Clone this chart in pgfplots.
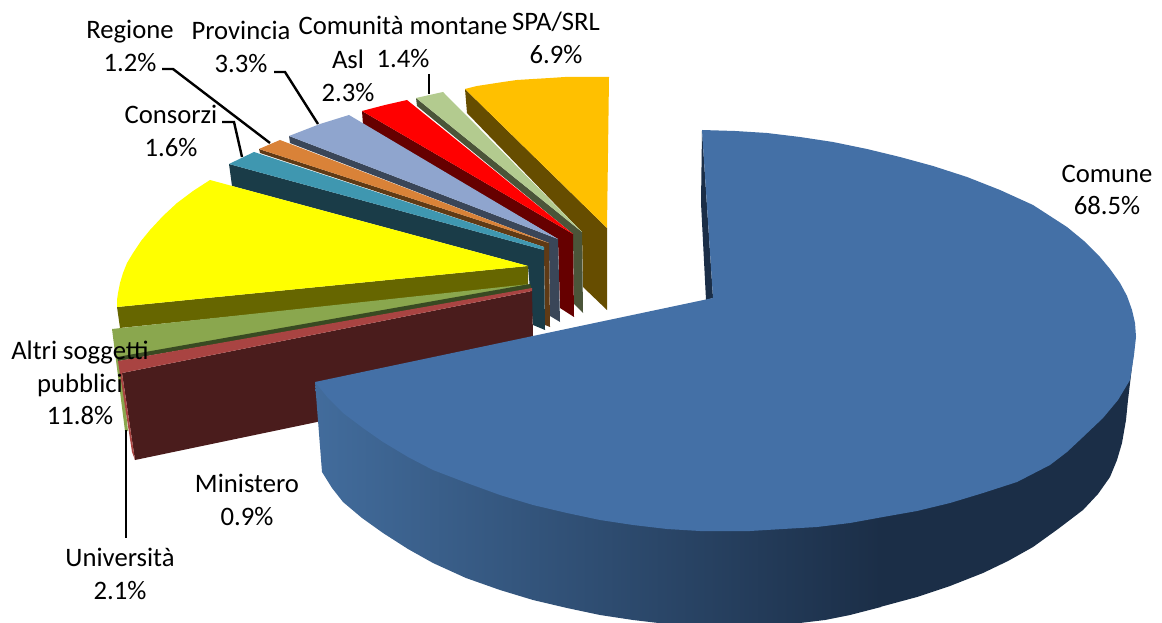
\documentclass[border=0pt]{standalone}
\usepackage{fontspec}
\setmainfont{Carlito}
\usepackage{pgfplots}
\pgfplotsset{compat=1.18}
\definecolor{cBlue}{HTML}{4470A6}
\definecolor{cBlueL}{HTML}{426C9C}
\definecolor{cBlueD}{HTML}{1B2E47}
\definecolor{cMar}{HTML}{4A1C1C}
\definecolor{cRedT}{HTML}{A94442}
\definecolor{cGrT}{HTML}{8AA74E}
\definecolor{cGrW}{HTML}{394A22}
\definecolor{cOliv}{HTML}{666600}
\definecolor{cYel}{HTML}{FFFF00}
\definecolor{cRed}{HTML}{FF0000}
\definecolor{cTealT}{HTML}{3F97B0}
\definecolor{cTealW}{HTML}{1A3C48}
\definecolor{cOrT}{HTML}{D98238}
\definecolor{cOrW}{HTML}{5F3A15}
\definecolor{cPerT}{HTML}{8FA5CE}
\definecolor{cPerW}{HTML}{3A4658}
\definecolor{cRedW}{HTML}{660000}
\definecolor{cLgT}{HTML}{B3CB8F}
\definecolor{cLgW}{HTML}{4B5539}
\definecolor{cSpaT}{HTML}{FFC000}
\definecolor{cSpaW}{HTML}{664D00}
\tikzset{
  lbl/.style={font=\fontsize{20}{24.5}\selectfont, align=center, anchor=center, text=black},
  ln/.style={draw=black, line width=1.8pt, line join=miter},
}
\begin{document}
\begin{tikzpicture}
\begin{axis}[
  scale only axis, width=871.5pt, height=467.25pt,
  xmin=0, xmax=1162, ymin=0, ymax=623, y dir=reverse,
  hide axis, clip=true,
]
\addplot[draw=none] coordinates {(0,0)(1162,623)};
% SPA/SRL
\addplot[fill=cSpaW,draw=none] coordinates {(465,89)(607,228)(607,310)(583,287)(582,232)(467,113)} --cycle;
\addplot[fill=cSpaT,draw=none] coordinates {(465,89)(477,86)(490,84)(503,82)(517,80)(533,79)(550,78)(565,77)(580,77)(609,77)(607,228)} --cycle;
% Comunita montane
\addplot[fill=cLgW,draw=none] coordinates {(416,98)(582,232)(583,313)(574,304)(573,234)(417,106)} --cycle;
\addplot[fill=cLgT,draw=none] coordinates {(416,98)(443,92)(582,232)} --cycle;
% Asl
\addplot[fill=cRedW,draw=none] coordinates {(362,111)(573,234)(574,317)(560,308)(558,239)(363,125)} --cycle;
\addplot[fill=cRed,draw=none] coordinates {(362,111)(385,105)(407,100)(573,234)} --cycle;
% Provincia
\addplot[fill=cPerW,draw=none] coordinates {(289,136)(558,239)(560,322)(550,316)(549,243)(290,143)} --cycle;
\addplot[fill=cPerT,draw=none] coordinates {(289,136)(320,124)(349,115)(558,239)} --cycle;
% Regione
\addplot[fill=cOrW,draw=none] coordinates {(259,149)(549,243)(550,327)(545,325)(544,247)(260,153)} --cycle;
\addplot[fill=cOrT,draw=none] coordinates {(259,149)(280,140)(549,243)} --cycle;
% Consorzi
\addplot[fill=cTealW,draw=none] coordinates {(229,164)(544,250)(545,330)(533,325)(528,266)(232,186)} --cycle;
\addplot[fill=cTealT,draw=none] coordinates {(229,164)(254,152)(544,247)(544,250)} --cycle;
% Altri soggetti pubblici
\addplot[fill=cOliv,draw=none] coordinates {(117,307)(528,266)(528,286)(120,328)} --cycle;
\addplot[fill=cYel,draw=none] coordinates {(210,180)(193,191)(177,203)(163,216)(150,230)(141,241)(133,253)(127,263)(123,273)(120,283)(118,293)(117,300)(117,307)(528,266)} --cycle;
% Universita
\addplot[fill=cGrT,draw=none] coordinates {(112,329)(530,284)(118,361)(122,373)(128,431)(125,431)} --cycle;
\addplot[fill=cGrW,draw=none] coordinates {(117,357)(530,284)(532,290)(118,361)} --cycle;
% Ministero
\addplot[fill=cMar,draw=none] coordinates {(122,373)(532,291)(533,336)(317,422)(135,460)} --cycle;
\addplot[fill=cRedT,draw=none] coordinates {(118,361)(532,288)(532,291)(122,373)(135,460)(132,452)} --cycle;
% Comune: inner wall, outer wall, top
\addplot[fill=cBlueD,draw=none] coordinates {(702,130)(701,203)(706,300)(713,298)} --cycle;
\addplot[left color=cBlueL,right color=cBlueD,draw=none] coordinates {(315,382)(322,472)(332,488)(343,502)(362,518)(383,533)(408,549)(433,563)(466,578)(500,590)(533,600)(567,608)(600,615)(633,620)(667,624)(700,627)(750,627)(800,623)(825,620)(850,615)(881,607)(881,500)} --cycle;
\addplot[fill=cBlueD,draw=none] coordinates {(880,607)(917,597)(950,586)(983,573)(1008,561)(1033,547)(1058,529)(1083,510)(1098,494)(1110,477)(1117,460)(1122,443)(1126,420)(1128,400)(1131,375)(1134,350)(880,500)} --cycle;
\addplot[fill=cBlue,draw=none] coordinates {(702,130)(735,131)(767,133)(800,137)(833,142)(867,149)(900,157)(933,166)(967,177)(1000,190)(1033,205)(1050,216)(1067,227)(1084,241)(1100,257)(1110,269)(1120,283)(1127,296)(1132,310)(1135,323)(1136,337)(1134,355)(1130,380)(1118,400)(1103,418)(1083,437)(1067,452)(1050,465)(1017,482)(983,493)(950,503)(917,511)(883,517)(850,523)(817,527)(783,529)(750,531)(720,531)(700,531)(667,529)(633,525)(600,520)(567,513)(533,505)(500,495)(467,483)(433,470)(408,457)(383,442)(363,428)(343,413)(328,398)(315,382)(713,298)} --cycle;
% leader lines
\addplot[ln] coordinates {(126,430)(126,538)};
\addplot[ln] coordinates {(222,122)(234,122)(242,157)};
\addplot[ln] coordinates {(162,69)(173,69)(270,143)};
\addplot[ln] coordinates {(274,72)(285,72)(318,124)};
\addplot[ln] coordinates {(429,74)(429,94)};
% labels
\node[lbl] at (axis cs:1107,190) {Comune\\68.5\%};
\node[lbl] at (axis cs:556,38) {SPA/SRL\\6.9\%};
\node[lbl] at (axis cs:403,42) {Comunità montane\\1.4\%};
\node[lbl] at (axis cs:348,76) {Asl\\2.3\%};
\node[lbl] at (axis cs:241,47) {Provincia\\3.3\%};
\node[lbl] at (axis cs:130,46) {Regione\\1.2\%};
\node[lbl] at (axis cs:171,131) {Consorzi\\1.6\%};
\node[lbl] at (axis cs:80,383) {Altri soggetti\\pubblici\\11.8\%};
\node[lbl] at (axis cs:247,500) {Ministero\\0.9\%};
\node[lbl] at (axis cs:120,574) {Università\\2.1\%};
\end{axis}
\end{tikzpicture}
\end{document}
